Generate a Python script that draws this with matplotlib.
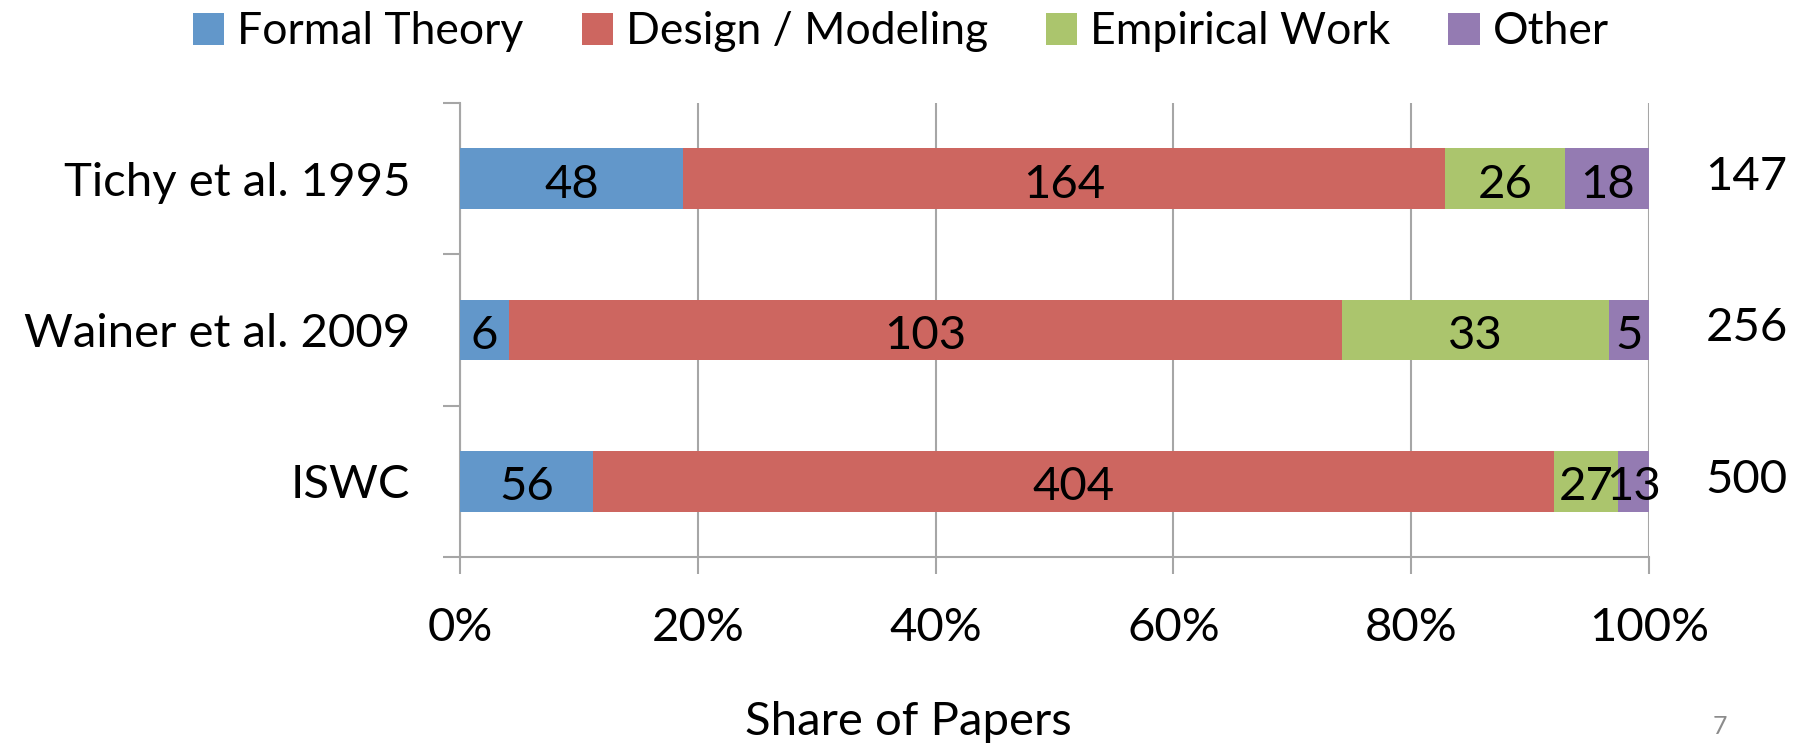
import numpy as np
import matplotlib.pyplot as plt
from matplotlib.patches import Patch

plt.rcParams['font.family'] = ['Lato', 'DejaVu Sans']

# papers per category, one list per study (bottom row first)
studies = ["ISWC", "Wainer et al. 2009", "Tichy et al. 1995"]
formal_theory = [56, 6, 48]
design_modeling = [404, 103, 164]
empirical_work = [27, 33, 26]
other = [13, 5, 18]
totals_text = ["500", "256", "147"]

series_names = ["Formal Theory", "Design / Modeling", "Empirical Work", "Other"]
series_colors = ["#6297CA", "#CD6660", "#ABC56D", "#947BB2"]
grid_color = "#A6A6A6"
FONTSIZE = 34

counts = np.array([formal_theory, design_modeling, empirical_work, other], dtype=float)
shares = counts / counts.sum(axis=0) * 100

fig = plt.figure(figsize=(18.02, 7.43), dpi=100)
ax = fig.add_axes([0.2553, 0.2503, 0.9151 - 0.2553, 0.8614 - 0.2503])

ypos = np.arange(len(studies))
left = np.zeros(len(studies))
for i in range(len(series_names)):
    ax.barh(ypos, shares[i], left=left, height=0.4, color=series_colors[i], zorder=3)
    for j in range(len(studies)):
        ax.text(left[j] + shares[i][j] / 2, ypos[j] - 0.04, f"{int(counts[i][j])}",
                ha='center', va='center', fontsize=FONTSIZE, zorder=4)
    left += shares[i]

# row totals to the right of the bars
for j, txt in enumerate(totals_text):
    ax.text(1.082, ypos[j] + 0.01, txt, transform=ax.get_yaxis_transform(),
            ha='center', va='center', fontsize=FONTSIZE)

ax.set_xlim(0, 100)
ax.set_ylim(-0.5, len(studies) - 0.5)

ax.set_xticks(np.arange(0, 101, 20))
ax.set_xticklabels([f"{v}%" for v in range(0, 101, 20)], fontsize=FONTSIZE)
ax.xaxis.grid(True, color=grid_color, linewidth=1.5, zorder=0)

# category separators as major ticks, names as minor ticks
ax.set_yticks(np.arange(-0.5, len(studies), 1.0))
ax.set_yticklabels([])
ax.set_yticks(ypos, minor=True)
ax.set_yticklabels(studies, minor=True, fontsize=FONTSIZE)
ax.tick_params(axis='y', which='major', length=12, width=1.5, color=grid_color, direction='out')
ax.tick_params(axis='y', which='minor', length=0, pad=36)
ax.tick_params(axis='x', length=12, width=1.5, color=grid_color, direction='out', pad=24)

for side in ['top', 'right']:
    ax.spines[side].set_visible(False)
for side in ['left', 'bottom']:
    ax.spines[side].set_color(grid_color)
    ax.spines[side].set_linewidth(1.5)

fig.text(908 / 1802, 1 - 722 / 743, "Share of Papers", ha='center', va='center', fontsize=FONTSIZE)
fig.text(1720 / 1802, 1 - 726 / 743, "7", ha='center', va='center', fontsize=18, color="#8C8C8C")

handles = [Patch(facecolor=c) for c in series_colors]
fig.legend(handles, series_names, loc='center', bbox_to_anchor=(0.5, 1 - 32 / 743), ncol=4,
           frameon=False, fontsize=32, handlelength=0.7, handleheight=0.7,
           handletextpad=0.3, columnspacing=1.3)

fig.savefig("out.png", dpi=100)
